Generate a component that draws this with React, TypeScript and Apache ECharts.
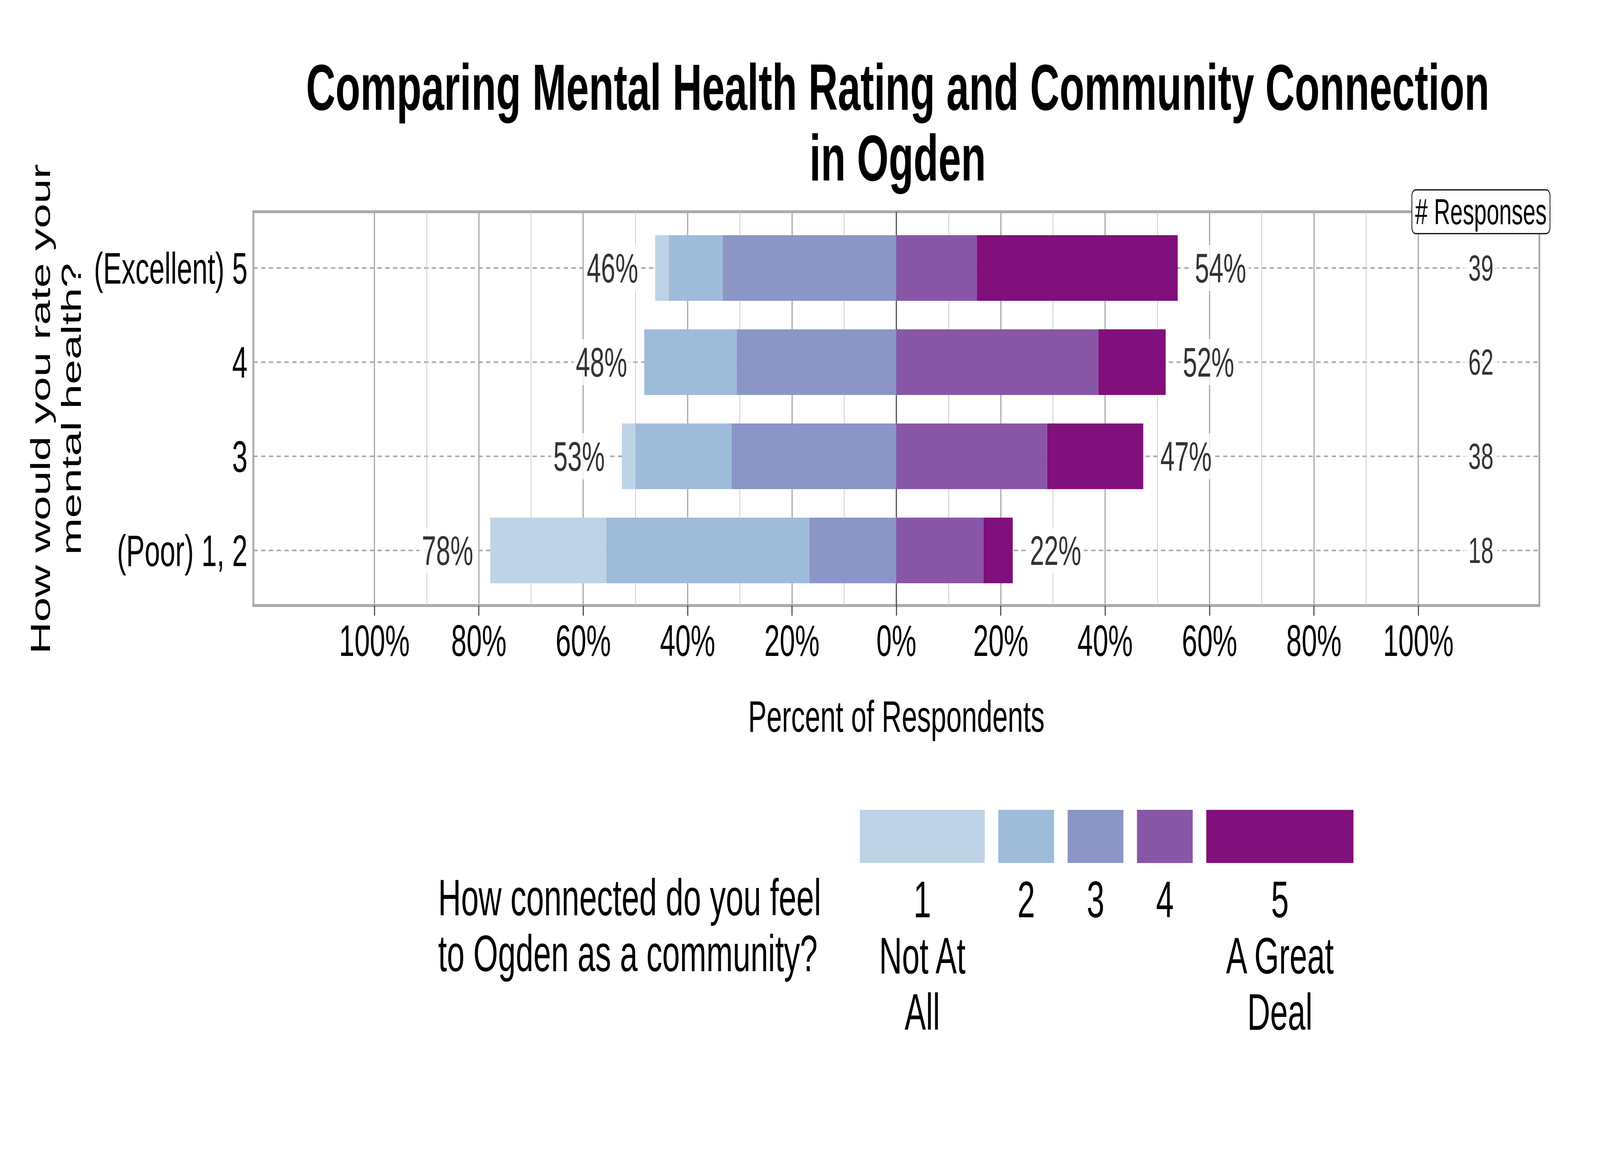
import { useEffect, useRef } from 'react'
import * as echarts from 'echarts'

// rows, bottom to top
const ratingLabels = ['(Poor) 1, 2', '3', '4', '(Excellent) 5']
const responses = [18, 38, 62, 39]

// percent of respondents per connection level (1 = Not At All ... 5 = A Great Deal)
const connect1 = [22.2, 2.6, 0, 2.6]
const connect2 = [38.9, 18.4, 17.7, 10.3]
const connect3 = [16.7, 31.6, 30.6, 33.3]
const connect4 = [16.7, 28.9, 38.7, 15.4]
const connect5 = [5.6, 18.4, 12.9, 38.5]

const levelNames = ['1', '2', '3', '4', '5']
const levelLabels = ['1\nNot At\nAll', '2', '3', '4', '5\nA Great\nDeal']
const levelColors = ['#bfd3e6', '#9ebcda', '#8c96c6', '#8856a7', '#810f7c']

const xTicks = [-100, -80, -60, -40, -20, 0, 20, 40, 60, 80, 100]
const minorGrid = [-90, -70, -50, -30, -10, 10, 30, 50, 70, 90]
const responsesX = 112

const FONT = 'Liberation Sans, Arial, Helvetica, sans-serif'

// layout (px, in the 6600 x 3000 design)
const W = 6600
const H = 3000
const X_MIN = -123.2
const X_MAX = 123.2
const GRID_LEFT = 1045
const GRID_RIGHT = 6350
const FRAME_TOP = 542
const FRAME_BOTTOM = 1550
const ROW_TOP = 686
const ROW_BOTTOM = 1409
const LEGEND_X0 = 3547
const LEGEND_GAP = 56
const LEGEND_BOX_W = [515, 230, 230, 230, 607]
const LEGEND_BOX_Y = 2073
const LEGEND_BOX_H = 136

export default function App() {
  const chartRef = useRef<HTMLDivElement>(null)

  // the browser window may be smaller than the design, so fit it
  const sx = typeof window !== 'undefined' ? Math.min(1, window.innerWidth / W) : 1
  const sy = typeof window !== 'undefined' ? Math.min(1, window.innerHeight / H) : 1

  useEffect(() => {
    document.body.style.margin = '0'
    document.body.style.overflow = 'hidden'
    if (!chartRef.current) return
    const chart = echarts.init(chartRef.current, null, { renderer: 'svg' })

    const levels = [connect1, connect2, connect3, connect4, connect5]
    const leftTotals = ratingLabels.map((_, i) => connect1[i] + connect2[i] + connect3[i])
    const rightTotals = ratingLabels.map((_, i) => connect4[i] + connect5[i])

    // neutral (3) sits entirely on the negative side, closest to zero
    const stackOrder = [2, 1, 0, 3, 4]
    const barSeries = stackOrder.map(k => ({
      name: levelNames[k],
      type: 'bar',
      xAxisIndex: 1,
      yAxisIndex: 1,
      stack: 'total',
      barWidth: 168,
      clip: false,
      z: 3,
      silent: true,
      itemStyle: { color: levelColors[k] },
      data: levels[k].map(v => (k < 3 ? -v : v))
    }))

    const totalLabel = (side: 'left' | 'right') => ({
      type: 'scatter',
      xAxisIndex: 1,
      yAxisIndex: 1,
      symbolSize: 1,
      clip: false,
      silent: true,
      z: 5,
      itemStyle: { color: 'rgba(0,0,0,0)' },
      label: {
        show: true,
        position: side,
        distance: 60,
        fontSize: 106,
        fontFamily: FONT,
        color: '#000',
        backgroundColor: '#fff',
        padding: [6, 10],
        formatter: (p: any) => Math.round(Math.abs(p.value[0])) + '%'
      },
      data: (side === 'left' ? leftTotals.map(v => -v) : rightTotals).map((v, i) => [v, i])
    })

    const gridLines = [
      ...xTicks.filter(v => v !== 0).map(v => ({ xAxis: v, lineStyle: { color: '#aaaaaa', width: 5, type: 'solid' } })),
      ...minorGrid.map(v => ({ xAxis: v, lineStyle: { color: '#c8c8c8', width: 3, type: 'solid' } })),
      { xAxis: 0, lineStyle: { color: '#555555', width: 5, type: 'solid' } }
    ]

    const xPix = (v: number) => GRID_LEFT + ((v - X_MIN) / (X_MAX - X_MIN)) * (GRID_RIGHT - GRID_LEFT)

    const legendChildren: any[] = []
    let lx = LEGEND_X0
    levelColors.forEach((c, i) => {
      const w = LEGEND_BOX_W[i]
      legendChildren.push({
        type: 'rect',
        shape: { x: lx, y: LEGEND_BOX_Y, width: w, height: LEGEND_BOX_H },
        style: { fill: c }
      })
      legendChildren.push({
        type: 'text',
        x: lx + w / 2,
        y: 2230,
        style: {
          text: levelLabels[i],
          fill: '#000',
          fontSize: 131,
          fontFamily: FONT,
          lineHeight: 144,
          align: 'center',
          verticalAlign: 'top'
        }
      })
      lx += w + LEGEND_GAP
    })

    const option = {
      animation: false,
      textStyle: { fontFamily: FONT },
      title: {
        text: 'Comparing Mental Health Rating and Community Connection\nin Ogden',
        left: 3698,
        top: 127,
        textAlign: 'center',
        textStyle: { fontSize: 168, fontWeight: 'bold', lineHeight: 181, color: '#000', fontFamily: FONT }
      },
      grid: [
        {
          left: GRID_LEFT,
          right: W - GRID_RIGHT,
          top: FRAME_TOP,
          bottom: H - FRAME_BOTTOM,
          show: true,
          borderColor: '#aaaaaa',
          borderWidth: 7.5,
          backgroundColor: 'transparent'
        },
        {
          left: GRID_LEFT,
          right: W - GRID_RIGHT,
          top: ROW_TOP,
          bottom: H - ROW_BOTTOM
        }
      ],
      xAxis: [
        {
          gridIndex: 0,
          type: 'value',
          min: X_MIN,
          max: X_MAX,
          axisLine: { show: false },
          splitLine: { show: false },
          axisTick: { show: true, customValues: xTicks, length: 26, lineStyle: { color: '#333', width: 4 } },
          axisLabel: {
            customValues: xTicks,
            formatter: (v: number) => Math.abs(Math.round(v)) + '%',
            fontSize: 114,
            color: '#000',
            margin: 32
          },
          name: 'Percent of Respondents',
          nameLocation: 'middle',
          nameGap: 226,
          nameTextStyle: { fontSize: 114, color: '#000' }
        },
        { gridIndex: 1, type: 'value', min: X_MIN, max: X_MAX, show: false }
      ],
      yAxis: [
        { gridIndex: 0, type: 'value', min: 0, max: 1, show: false },
        {
          gridIndex: 1,
          type: 'category',
          data: ratingLabels,
          boundaryGap: false,
          axisLine: { show: false },
          axisTick: { show: false },
          axisLabel: { fontSize: 114, color: '#000', margin: 24 },
          splitLine: { show: true, lineStyle: { color: '#aaaaaa', width: 4, type: [18, 14] } }
        }
      ],
      series: [
        {
          type: 'scatter',
          xAxisIndex: 0,
          yAxisIndex: 0,
          data: [],
          silent: true,
          markLine: {
            silent: true,
            symbol: 'none',
            z: 1,
            label: { show: false },
            data: gridLines
          }
        },
        ...barSeries,
        totalLabel('left'),
        totalLabel('right'),
        {
          type: 'scatter',
          xAxisIndex: 1,
          yAxisIndex: 1,
          symbolSize: 1,
          clip: false,
          silent: true,
          z: 5,
          itemStyle: { color: 'rgba(0,0,0,0)' },
          label: {
            show: true,
            position: 'inside',
            fontSize: 93,
            fontFamily: FONT,
            color: '#000',
            backgroundColor: '#fff',
            padding: [4, 18],
            formatter: (p: any) => String(responses[p.dataIndex])
          },
          data: responses.map((_, i) => [responsesX, i])
        }
      ],
      graphic: [
        {
          type: 'text',
          z: 100,
          x: xPix(responsesX),
          y: FRAME_TOP,
          style: {
            text: '# Responses',
            fill: '#000',
            fontSize: 93,
            fontFamily: FONT,
            align: 'center',
            verticalAlign: 'middle',
            backgroundColor: '#fff',
            borderColor: '#000',
            borderWidth: 3,
            borderRadius: 14,
            padding: [8, 12]
          }
        },
        {
          type: 'text',
          x: 230,
          y: 1047,
          rotation: Math.PI / 2,
          style: {
            text: 'How would you rate your\nmental health?',
            fill: '#000',
            fontSize: 114,
            fontFamily: FONT,
            lineHeight: 127,
            align: 'center',
            verticalAlign: 'middle'
          }
        },
        {
          type: 'text',
          x: 1807,
          y: 2226,
          style: {
            text: 'How connected do you feel\nto Ogden as a community?',
            fill: '#000',
            fontSize: 131,
            fontFamily: FONT,
            lineHeight: 143,
            align: 'left',
            verticalAlign: 'top'
          }
        },
        ...legendChildren
      ]
    }

    chart.setOption(option)

    return () => {
      chart.dispose()
    }
  }, [])

  return (
    <div style={{ width: W * sx, height: H * sy, overflow: 'hidden' }}>
      <div
        ref={chartRef}
        style={{ width: W, height: H, transform: `scale(${sx}, ${sy})`, transformOrigin: '0 0' }}
      />
    </div>
  )
}
